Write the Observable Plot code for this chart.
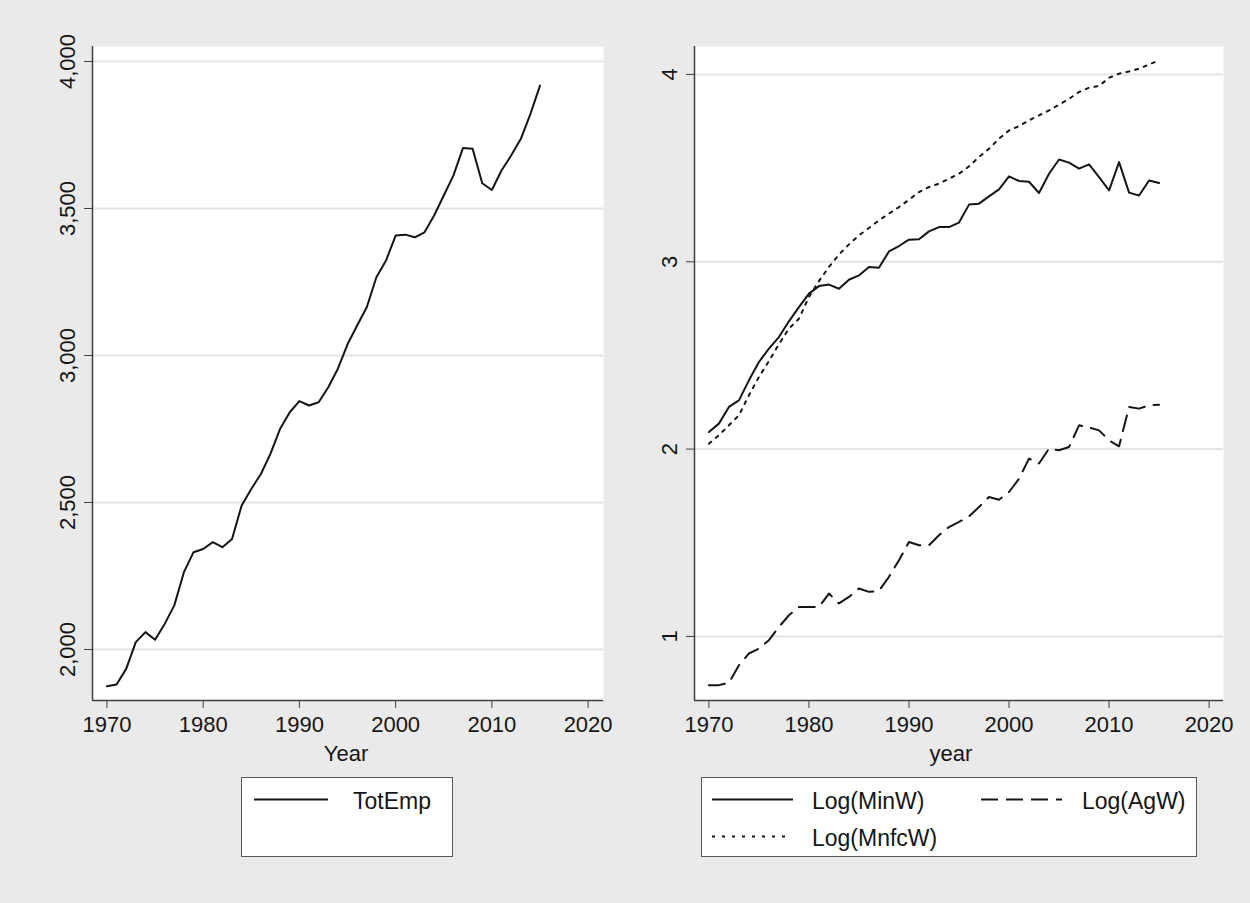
<!DOCTYPE html>
<html>
<head>
<meta charset="utf-8">
<script src="https://cdn.jsdelivr.net/npm/d3@7"></script>
<script src="https://cdn.jsdelivr.net/npm/@observablehq/plot@0.6"></script>
<style>
  html, body { margin: 0; padding: 0; background: #eaeaea; }
  #wrap { position: relative; width: 1250px; height: 903px; background: #eaeaea; overflow: hidden;
          font-family: "Liberation Sans", Arial, Helvetica, sans-serif; }
  .panel { position: absolute; top: 0; }
  #overlay { position: absolute; left: 0; top: 0; }
</style>
</head>
<body>
<div id="wrap">
  <div class="panel" id="leftPanel" style="left:0px"></div>
  <div class="panel" id="rightPanel" style="left:625px"></div>
</div>
<script>
// ---------------- DATA ----------------
const years = [1970,1971,1972,1973,1974,1975,1976,1977,1978,1979,
               1980,1981,1982,1983,1984,1985,1986,1987,1988,1989,
               1990,1991,1992,1993,1994,1995,1996,1997,1998,1999,
               2000,2001,2002,2003,2004,2005,2006,2007,2008,2009,
               2010,2011,2012,2013,2014,2015];

const totEmp = [1875,1881,1934,2025,2059,2033,2087,2150,2263,2331,
                2342,2365,2348,2376,2490,2546,2597,2666,2751,2807,
                2845,2830,2841,2892,2955,3038,3102,3164,3266,3323,
                3408,3411,3402,3419,3476,3544,3612,3706,3703,3586,
                3563,3629,3680,3736,3821,3918];

const logMinW = [2.091,2.136,2.225,2.260,2.367,2.465,2.536,2.598,2.682,2.758,
                 2.830,2.870,2.878,2.856,2.904,2.927,2.972,2.968,3.055,3.084,
                 3.118,3.120,3.162,3.185,3.185,3.209,3.305,3.310,3.349,3.386,
                 3.456,3.431,3.427,3.367,3.470,3.546,3.529,3.497,3.520,3.452,
                 3.381,3.532,3.369,3.354,3.434,3.420];

const logMnfcW = [2.029,2.074,2.127,2.180,2.287,2.385,2.470,2.560,2.643,2.696,
                  2.812,2.897,2.972,3.038,3.093,3.141,3.180,3.221,3.257,3.292,
                  3.331,3.372,3.399,3.417,3.443,3.470,3.509,3.559,3.603,3.657,
                  3.701,3.724,3.755,3.781,3.808,3.838,3.870,3.906,3.929,3.938,
                  3.982,4.004,4.016,4.030,4.053,4.075];

const logAgW = [0.740,0.740,0.752,0.846,0.909,0.935,0.980,1.051,1.113,1.157,
                1.157,1.157,1.229,1.176,1.211,1.256,1.238,1.243,1.318,1.407,
                1.504,1.487,1.487,1.540,1.584,1.611,1.641,1.691,1.744,1.730,
                1.771,1.842,1.949,1.923,2.003,1.994,2.011,2.127,2.115,2.100,
                2.047,2.015,2.225,2.216,2.234,2.237];

const xTicks = [1970,1980,1990,2000,2010,2020];
const leftYTicks = [2000,2500,3000,3500,4000];
const rightYTicks = [1,2,3,4];

const leftXTitle = "Year";
const rightXTitle = "year";
const leftLegend = ["TotEmp"];
const rightLegend = ["Log(MinW)","Log(AgW)","Log(MnfcW)"];

const leftXDomain = [1968.5, 2021.6];
const leftYDomain = [1826.5, 4051];
const rightXDomain = [1968.56, 2021.44];
const rightYDomain = [0.658, 4.149];

// ---------------- HELPERS ----------------
const FONT = "'Liberation Sans', Arial, Helvetica, sans-serif";
const INK = "#151515";
const AXIS = "#404040";
const GRID = "#e4e4e4";
const fmtComma = d3.format(",");

const rows = (vals) => years.map((y, i) => ({year: y, value: vals[i]}));

function panel({width, marginLeft, marginRight, xDomain, yDomain, yTicks, yFormat, lines}) {
  return Plot.plot({
    width, height: 740,
    marginLeft, marginRight, marginTop: 46, marginBottom: 40,
    style: `background:transparent;font-family:${FONT};font-size:22px;color:${INK};overflow:visible;`,
    x: {domain: xDomain},
    y: {domain: yDomain},
    marks: [
      Plot.frame({fill: "white", stroke: null}),
      Plot.ruleY(yTicks, {stroke: GRID, strokeWidth: 2}),
      ...lines.map(l => Plot.line(rows(l.values), {
        x: "year", y: "value", stroke: INK, strokeWidth: 2,
        strokeDasharray: l.dash, strokeLinejoin: "round"
      })),
      Plot.ruleX([xDomain[0]], {stroke: AXIS, strokeWidth: 1.5}),
      Plot.ruleY([yDomain[0]], {stroke: AXIS, strokeWidth: 1.5}),
      Plot.axisX({ticks: xTicks, tickSize: 8, tickPadding: 8, tickFormat: d => String(d),
                  label: null, stroke: AXIS, fontSize: 22}),
      Plot.axisY({ticks: yTicks, tickSize: 8, tickFormat: () => "", label: null, stroke: AXIS}),
      Plot.text(yTicks, {y: d => d, text: d => yFormat(d), frameAnchor: "left", dx: -18,
                         rotate: -90, textAnchor: "middle", lineAnchor: "bottom",
                         fontSize: 22, fill: INK})
    ]
  });
}

const leftSvg = panel({
  width: 625, marginLeft: 92, marginRight: 22,
  xDomain: leftXDomain, yDomain: leftYDomain,
  yTicks: leftYTicks, yFormat: fmtComma,
  lines: [{values: totEmp, dash: null}]
});
document.getElementById("leftPanel").appendChild(leftSvg);

const rightSvg = panel({
  width: 625, marginLeft: 69, marginRight: 27,
  xDomain: rightXDomain, yDomain: rightYDomain,
  yTicks: rightYTicks, yFormat: d => String(d),
  lines: [
    {values: logMnfcW, dash: "3,6"},
    {values: logAgW, dash: "16,9"},
    {values: logMinW, dash: null}
  ]
});
document.getElementById("rightPanel").appendChild(rightSvg);

// ---------------- AXIS TITLES & LEGENDS ----------------
const ov = d3.select("#wrap").append("svg")
  .attr("id", "overlay").attr("width", 1250).attr("height", 903)
  .style("font-family", FONT).style("pointer-events", "none");

ov.append("text").attr("x", 346).attr("y", 761).attr("text-anchor", "middle")
  .attr("font-size", 22).attr("fill", INK).text(leftXTitle);
ov.append("text").attr("x", 951).attr("y", 761).attr("text-anchor", "middle")
  .attr("font-size", 22).attr("fill", INK).text(rightXTitle);

function legendBox(x, y, w, h) {
  ov.append("rect").attr("x", x).attr("y", y).attr("width", w).attr("height", h)
    .attr("fill", "white").attr("stroke", "#5a5a5a").attr("stroke-width", 1);
}
function legendKey(x1, x2, y, dash) {
  ov.append("line").attr("x1", x1).attr("x2", x2).attr("y1", y).attr("y2", y)
    .attr("stroke", INK).attr("stroke-width", 2).attr("stroke-dasharray", dash);
}
function legendText(x, y, t) {
  ov.append("text").attr("x", x).attr("y", y).attr("font-size", 23).attr("fill", INK).text(t);
}

legendBox(241.5, 777.5, 211, 79);
legendKey(254, 328, 799.5, null);
legendText(353, 809, leftLegend[0]);

legendBox(701.5, 777.5, 495, 79);
legendKey(712, 793, 799.5, null);
legendText(812, 809, rightLegend[0]);
legendKey(981, 1062, 799.5, "17,8");
legendText(1082, 809, rightLegend[1]);
legendKey(712, 792, 836.5, "3,7");
legendText(812, 846, rightLegend[2]);
</script>
</body>
</html>
